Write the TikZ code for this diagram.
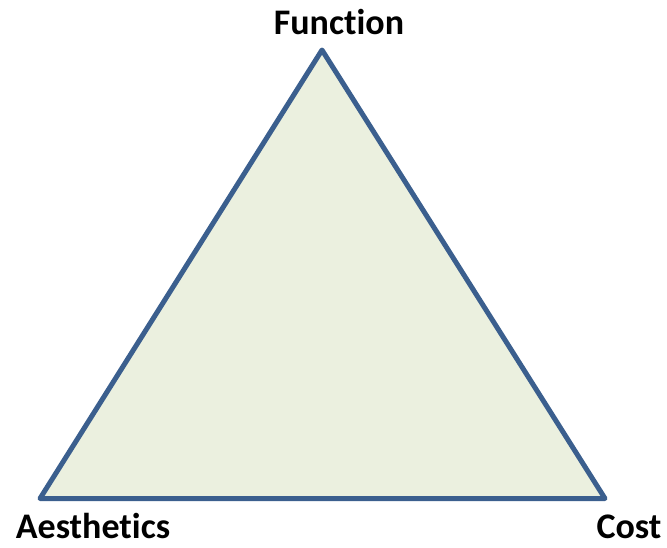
\documentclass[tikz,border=0pt]{standalone}
\usepackage{fontspec}
\setmainfont{Carlito}[Ligatures={NoCommon}]
\usetikzlibrary{positioning}
\definecolor{triline}{HTML}{3B5F8E}
\definecolor{trifill}{HTML}{EBF0DF}

\begin{document}
\begin{tikzpicture}[
    x=1pt, y=-1pt,
    corner/.style={inner sep=0, anchor=base, text depth=0pt, font=\fontsize{36}{40}\selectfont\bfseries},
    tri/.style={draw=triline, fill=trifill, line width=5pt, line join=round}]
\useasboundingbox (0,0) rectangle (667,547);

\coordinate (top) at (322,50);
\coordinate (left) at (40,498.5);
\coordinate (right) at (605,498.5);

\path[tri] (top) -- (left) -- (right) -- cycle;

\node[corner] (function) at (339,34) {Function};
\node[corner] (aesthetics) at (93,538) {Aesthetics};
\node[corner] (cost) at (629,538) {Cost};

\end{tikzpicture}
\end{document}
